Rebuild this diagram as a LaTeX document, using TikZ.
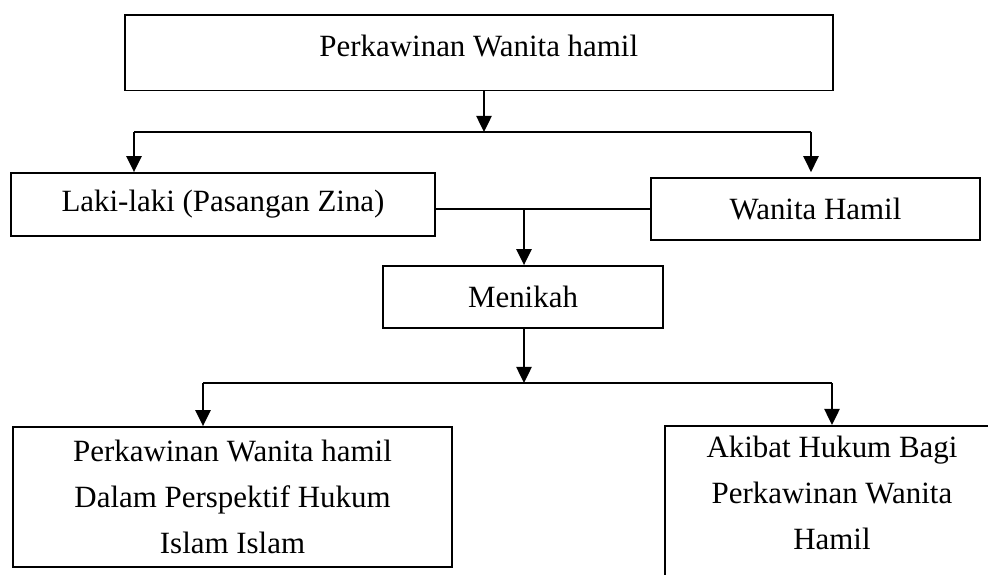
\documentclass[tikz,border=0pt]{standalone}
\usepackage{fontspec}
\setmainfont{Liberation Serif}
\usetikzlibrary{arrows.meta}

\begin{document}
\begin{tikzpicture}[
        box/.style={rectangle, draw, inner sep=0pt},
        lines/.style={align=center},
        >={Stealth[inset=0pt, length=0.4cm, width=0.38cm]},
        line width=1.3pt,
        font=\fontsize{22}{33}\selectfont
    ]
        \useasboundingbox (0, 0) rectangle (24.7, 14.375);
        \clip (0, 0) rectangle (24.7, 14.375);

        \node[box, minimum width=17.71cm, minimum height=1.89cm, text depth=0.37cm] (top) at (11.97, 13.056) {Perkawinan Wanita hamil};
        \node[box, minimum width=10.6cm, minimum height=1.575cm] (laki) at (5.575, 9.2625) {Laki-laki (Pasangan Zina)};
        \node[box, minimum width=8.225cm, minimum height=1.55cm] (wanita) at (20.3875, 9.15) {Wanita Hamil};
        \node[box, minimum width=7cm, minimum height=1.55cm] (menikah) at (13.075, 6.95) {Menikah};
        \node[box, lines, minimum width=10.975cm, minimum height=3.5cm] (islam) at (5.8125, 1.95) {Perkawinan Wanita hamil\\Dalam Perspektif Hukum\\Islam Islam};
        \node[box, minimum width=8.35cm, minimum height=4.5cm, anchor=north] (akibatbox) at (20.8, 3.75) {};
        \node[lines] (akibat) at (20.8, 2.05) {Akibat Hukum Bagi\\Perkawinan Wanita\\Hamil};

        % branch points
        \coordinate (split1) at (12.1, 11.075);
        \coordinate (left1) at (3.35, 11.075);
        \coordinate (right1) at (20.275, 11.075);
        \coordinate (join) at (13.1, 9.15);
        \coordinate (split2) at (13.1, 4.8);
        \coordinate (left2) at (5.075, 4.8);
        \coordinate (right2) at (20.8, 4.8);

        \draw[->] (split1 |- top.south) -- (split1);
        \draw (left1) -- (right1);
        \draw[->] (left1) -- (left1 |- laki.north);
        \draw[->, shorten >=3.5pt] (right1) -- (right1 |- wanita.north);
        \draw (laki.east |- join) -- (wanita.west |- join);
        \draw[->] (join) -- (join |- menikah.north);
        \draw[->] (split2 |- menikah.south) -- (split2);
        \draw (left2) -- (right2);
        \draw[->] (left2) -- (left2 |- islam.north);
        \draw[->] (right2) -- (right2 |- akibatbox.north);
    \end{tikzpicture}
\end{document}
